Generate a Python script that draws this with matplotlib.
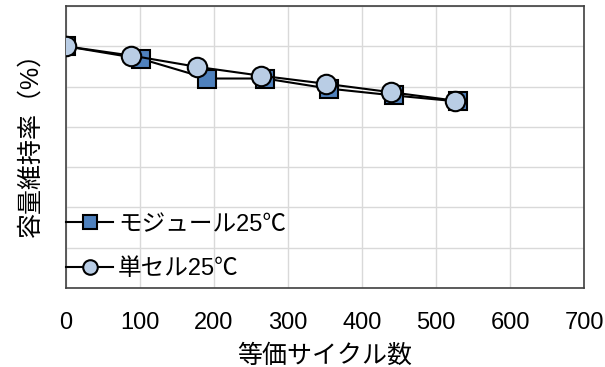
import matplotlib
matplotlib.use("Agg")
import matplotlib.pyplot as plt

plt.rcParams['font.family'] = ['Liberation Sans', 'Noto Sans CJK JP', 'DejaVu Sans']

module_x = [0, 101, 191, 269, 355, 443, 530]
module_y = [100.0, 96.9, 92.0, 92.0, 89.5, 87.8, 86.3]
cell_x = [0, 88, 177, 263, 351, 439, 526]
cell_y = [100.0, 97.7, 94.9, 92.7, 90.7, 88.6, 86.5]

x_ticks = [0, 100, 200, 300, 400, 500, 600, 700]
y_grid = [40, 50, 60, 70, 80, 90, 100, 110]

fig = plt.figure(figsize=(6.05, 3.67), dpi=100)
ax = fig.add_axes([66/605, 1-288/367, (584-66)/605, (288-6)/367])

ax.plot(module_x, module_y, color='black', lw=1.5, marker='s', markersize=13,
        markerfacecolor='#4F81BD', markeredgecolor='black', markeredgewidth=1.5,
        label='モジュール25℃', zorder=3)
ax.plot(cell_x, cell_y, color='black', lw=1.5, marker='o', markersize=14,
        markerfacecolor='#B9CDE5', markeredgecolor='black', markeredgewidth=1.5,
        label='単セル25℃', zorder=4)

ax.set_xlim(0, 700)
ax.set_ylim(40, 110)
ax.set_xticks(x_ticks)
ax.set_xticklabels([str(t) for t in x_ticks], fontsize=17)
ax.set_yticks(y_grid)
ax.set_yticklabels([])
ax.tick_params(length=0, pad=17)
ax.grid(True, color='#D9D9D9', lw=1)
ax.set_axisbelow(True)
for s in ax.spines.values():
    s.set_color('#404040')
    s.set_linewidth(1.2)

ax.set_xlabel('等価サイクル数', fontsize=18, labelpad=7)
ax.set_ylabel('容量維持率（%）', fontsize=18)
ax.yaxis.set_label_coords(-0.045, 0.53)

leg = ax.legend(loc='lower left', frameon=False, fontsize=17, handlelength=2.0,
                handletextpad=0.2, labelspacing=0.95, borderaxespad=0.0,
                borderpad=0.0, markerscale=0.75,
                bbox_to_anchor=(0.0, 0.028))

fig.savefig('out.png', dpi=100)
